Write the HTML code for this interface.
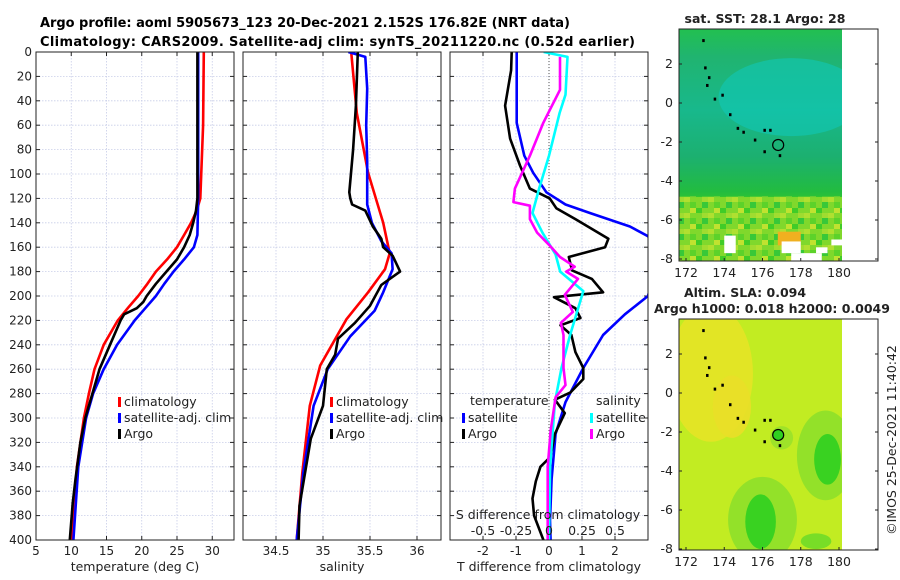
<!DOCTYPE html>
<html><head><meta charset="utf-8">
<style>
html,body{margin:0;padding:0;background:#fff;}
svg{display:block;font-family:"DejaVu Sans","Liberation Sans",sans-serif;}
</style></head>
<body>
<svg id="fig" width="900" height="580" viewBox="0 0 900 580" xmlns="http://www.w3.org/2000/svg">
<defs>
<linearGradient id="sstg" x1="0" y1="0" x2="0" y2="1">
<stop offset="0" stop-color="#22c050"/><stop offset="0.12" stop-color="#20b470"/><stop offset="0.35" stop-color="#18b88c"/><stop offset="0.55" stop-color="#1cb070"/><stop offset="0.7" stop-color="#22bc40"/><stop offset="0.78" stop-color="#40cc20"/><stop offset="0.85" stop-color="#8edc30"/><stop offset="1" stop-color="#7cd430"/>
</linearGradient>
<linearGradient id="speckfade" x1="0" y1="0" x2="0" y2="1">
<stop offset="0" stop-color="#fff" stop-opacity="0"/><stop offset="0.35" stop-color="#fff" stop-opacity="1"/>
</linearGradient>
<mask id="speckmask"><rect x="679" y="160" width="163" height="110" fill="url(#speckfade)"/></mask>
<pattern id="speck" width="24" height="16" patternUnits="userSpaceOnUse">
<rect width="24" height="16" fill="#80d82c"/>
<rect x="0" y="0" width="6" height="5" fill="#40cc28"/><rect x="12" y="5" width="6" height="5" fill="#b0e030"/>
<rect x="6" y="10" width="6" height="6" fill="#38c838"/><rect x="18" y="0" width="6" height="5" fill="#c0e230"/>
<rect x="18" y="10" width="6" height="6" fill="#5cd22a"/><rect x="6" y="5" width="6" height="5" fill="#a0dc30"/>
</pattern>
<clipPath id="cm1"><rect x="679" y="29" width="163" height="232"/></clipPath>
<clipPath id="cm2"><rect x="679" y="319" width="163" height="231"/></clipPath>
</defs>
<text x="40" y="27" font-size="13" font-weight="bold" textLength="530">Argo profile: aoml 5905673_123 20-Dec-2021 2.152S 176.82E (NRT data)</text>
<text x="40" y="46" font-size="13" font-weight="bold" textLength="595">Climatology: CARS2009. Satellite-adj clim: synTS_20211220.nc (0.52d earlier)</text>
<g id="p1"></g>
<g id="p2"></g>
<g id="p3"></g>
<g id="maps"></g>
<text transform="translate(896,440) rotate(-90)" font-size="12.5" text-anchor="middle" fill="#222">©IMOS 25-Dec-2021 11:40:42</text>
</svg>
<script>
// ---- data ----
const depthTicks=[0,20,40,60,80,100,120,140,160,180,200,220,240,260,280,300,320,340,360,380,400];
const tTicks=[5,10,15,20,25,30];
const sTicks=[34.5,35,35.5,36];
const dTicksT=[-2,-1,0,1,2];
const dTicksS=[-0.5,-0.25,0,0.25,0.5];
const dTickSLabels=["-0.5","-0.25","0","0.25","0.5"];
const tClimD=[0,60,120,130,140,150,160,170,180,190,200,210,220,240,260,280,300,340,400];
const tClimV=[28.8,28.7,28.3,27.8,27.0,26.0,25.0,23.6,22.0,20.8,19.5,18.0,16.6,14.6,13.3,12.5,11.8,10.8,10.1];
const tSatD=[0,60,120,150,160,170,180,190,200,210,220,240,260,280,300,340,400];
const tSatV=[28.0,28.0,28.0,27.9,27.4,26.0,24.5,23.2,22.0,20.5,19.0,16.5,14.6,13.1,12.1,11.0,10.3];
const tArgD=[0,60,120,130,140,150,160,170,180,190,200,205,210,215,220,240,260,280,300,320,350,370,400];
const tArgV=[27.9,27.9,27.9,27.7,27.3,26.8,26.0,25.0,23.5,22.0,20.7,20.2,19.3,17.5,17.0,15.5,14.0,13.0,12.0,11.3,10.6,10.2,9.8];
const sClimD=[0,50,99,140,165,178,197,219,257,290,345,400];
const sClimV=[35.30,35.36,35.48,35.64,35.71,35.66,35.48,35.25,34.97,34.86,34.78,34.72];
const sSatD=[0,4,30,60,90,125,140,155,165,178,197,212,233,260,290,345,400];
const sSatV=[35.27,35.45,35.47,35.46,35.47,35.47,35.52,35.62,35.73,35.74,35.64,35.55,35.29,35.05,34.90,34.79,34.72];
const sArgD=[0,44,80,115,120,125,130,143,153,160,167,180,186,191,208,222,235,248,260,290,317,372,400];
const sArgV=[35.37,35.35,35.32,35.28,35.29,35.31,35.45,35.53,35.62,35.64,35.74,35.82,35.71,35.62,35.50,35.34,35.16,35.13,35.04,35.00,34.87,34.75,34.74];
const dTSatD=[0,58,85,99,115,125,132,143,151,160,170,180,190,200,215,232,259,287,313,350,384,400];
const dTSatV=[-0.98,-0.98,-0.75,-0.48,-0.08,0.5,1.24,2.45,3.0,3.2,3.4,3.3,3.1,3.0,2.3,1.64,1.04,0.5,0.2,0.08,0.03,0.05];
const dTArgD=[0,15,44,71,93,112,120,128,137,153,160,168,179,186,197,201,210,218,224,232,246,259,268,279,285,296,313,332,340,352,366,380,400];
const dTArgV=[-1.13,-1.15,-1.33,-1.18,-0.88,-0.58,0.02,0.22,0.8,1.8,1.7,0.6,0.7,1.3,1.64,0.15,0.8,0.95,0.35,0.68,0.8,1.04,1.04,0.65,0.18,0.48,0.18,0.04,-0.26,-0.4,-0.5,-0.45,-0.17];
const dSSatD=[0,4,35,50,85,112,132,148,166,180,196,232,259,287,340,400];
const dSSatV=[-0.04,0.14,0.125,0.08,0.0,-0.075,-0.125,-0.05,0.05,0.085,0.26,0.16,0.095,0.045,0.008,-0.001];
const dSArgD=[4,31,58,85,112,123,126,137,148,158,168,176,180,186,199,213,222,232,259,273,283,310,340,400];
const dSArgV=[0.083,0.083,-0.043,-0.145,-0.258,-0.27,-0.145,-0.145,-0.09,0.0,0.083,0.195,0.13,0.22,0.12,0.18,0.09,0.11,0.11,0.125,0.05,0.013,-0.01,-0.01];
const mapLonTicks=[172,174,176,178,180];
const mapLatTicks=[2,0,-2,-4,-6,-8];
const argoLon=[176.82];
const argoLat=[-2.152];

const NS="http://www.w3.org/2000/svg";
function el(tag,attrs,parent){const e=document.createElementNS(NS,tag);for(const k in attrs)e.setAttribute(k,attrs[k]);parent.appendChild(e);return e;}
const Y0=52,Y1=540;
function yD(d){return Y0+(d/400)*(Y1-Y0);}

function panel(g,x0,x1,xmin,xmax,ticks,labels,showDepth){
  const xs=v=>x0+(v-xmin)/(xmax-xmin)*(x1-x0);
  depthTicks.forEach(d=>{
    const l=el('line',{x1:x0,x2:x1,y1:yD(d),y2:yD(d),stroke:'#c8cde8','stroke-width':0.8,'stroke-dasharray':'1.5,1.5'},g);
    
    
    const t1=el('line',{x1:x0,x2:x0+4,y1:yD(d),y2:yD(d),stroke:'#222'},g);
    
    
    const t2=el('line',{x1:x1-4,x2:x1,y1:yD(d),y2:yD(d),stroke:'#222'},g);
    
    
    if(showDepth){const tx=el('text',{x:x0-4,y:yD(d)+4,'font-size':12,'text-anchor':'end',fill:'#222'},g);tx.textContent=d;
      
      }
  });
  ticks.forEach((v,i)=>{
    const x=xs(v);
    const l=el('line',{x1:x,x2:x,y1:Y0,y2:Y1,stroke:'#c8cde8','stroke-width':0.8,'stroke-dasharray':'1.5,1.5'},g);
    
    
    const t1=el('line',{x1:x,x2:x,y1:Y1-4,y2:Y1,stroke:'#222'},g);
    
    
    const t2=el('line',{x1:x,x2:x,y1:Y0,y2:Y0+4,stroke:'#222'},g);
    
    
    if(labels){const tx=el('text',{x:x,y:Y1+15,'font-size':12,'text-anchor':'middle',fill:'#222'},g);tx.textContent=labels[i];
      
      }
  });
  return xs;
}
function frame(g,x0,x1){const r=el('rect',{x:x0,y:Y0,width:x1-x0,height:Y1-Y0,fill:'none',stroke:'#222','stroke-width':1},g);
  
  }
function line(g,xs,D,V,color,name,w){
  const pts=D.map((d,i)=>xs(V[i]).toFixed(1)+','+yD(d).toFixed(1)).join(' ');
  const p=el('polyline',{points:pts,fill:'none',stroke:color,'stroke-width':w||2.6,'stroke-linejoin':'round'},g);
  
  
}
function txt(g,x,y,s,attrs,name){const t=el('text',Object.assign({x:x,y:y,'font-size':12.5,fill:'#222'},attrs||{}),g);t.textContent=s;
  
  return t;}
function legItem(g,x,y,color,label,name){
  const m=el('rect',{x:x,y:y-9,width:3,height:10,fill:color},g);
  
  
  txt(g,x+6,y,label,{'font-size':12.5},name+'-label');
}

// Panel 1
const g1=document.getElementById('p1');
const cp1=el('clipPath',{id:'c1'},g1);el('rect',{x:36,y:Y0,width:198,height:Y1-Y0},cp1);
const xs1=panel(g1,36,234,5,5+198/7.05,tTicks,tTicks.map(String),true);
const l1=el('g',{'clip-path':'url(#c1)'},g1);
line(l1,xs1,tClimD,tClimV,'#f00','temp-climatology-line');
line(l1,xs1,tSatD,tSatV,'#00f','temp-satellite-line');
line(l1,xs1,tArgD,tArgV,'#000','temp-argo-line');
frame(g1,36,234);
legItem(g1,118,406,'#f00','climatology','legend-climatology');
legItem(g1,118,422,'#00f','satellite-adj. clim','legend-satellite');
legItem(g1,118,438,'#000','Argo','legend-argo');
txt(g1,135,571,'temperature (deg C)',{'font-size':12.5,'text-anchor':'middle'},'x-axis-title-temperature');

// Panel 2
const g2=document.getElementById('p2');
const cp2=el('clipPath',{id:'c2'},g2);el('rect',{x:243,y:Y0,width:198,height:Y1-Y0},cp2);
const xs2=panel(g2,243,441,34.5-33/94,34.5+165/94,sTicks,sTicks.map(String),false);
const l2=el('g',{'clip-path':'url(#c2)'},g2);
line(l2,xs2,sClimD,sClimV,'#f00','sal-climatology-line');
line(l2,xs2,sSatD,sSatV,'#00f','sal-satellite-line');
line(l2,xs2,sArgD,sArgV,'#000','sal-argo-line');
frame(g2,243,441);
legItem(g2,330,406,'#f00','climatology','legend-climatology');
legItem(g2,330,422,'#00f','satellite-adj. clim','legend-satellite');
legItem(g2,330,438,'#000','Argo','legend-argo');
txt(g2,342,571,'salinity',{'font-size':12.5,'text-anchor':'middle'},'x-axis-title-salinity');

// Panel 3
const g3=document.getElementById('p3');
const cp3=el('clipPath',{id:'c3'},g3);el('rect',{x:450,y:Y0,width:198,height:Y1-Y0},cp3);
const xs3=panel(g3,450,648,-3,3,dTicksT,dTicksT.map(String),false);
const xs3s=v=>xs3(v*4);
const zl=el('line',{x1:xs3(0),x2:xs3(0),y1:Y0,y2:Y1,stroke:'#555','stroke-width':1,'stroke-dasharray':'1,2'},g3);


const l3=el('g',{'clip-path':'url(#c3)'},g3);
line(l3,xs3,dTSatD,dTSatV,'#00f','tdiff-satellite-line');
line(l3,xs3,dTArgD,dTArgV,'#000','tdiff-argo-line');
line(l3,xs3s,dSSatD,dSSatV,'#0ff','sdiff-satellite-line');
line(l3,xs3s,dSArgD,dSArgV,'#f0f','sdiff-argo-line');
frame(g3,450,648);
txt(g3,470,405,'temperature',{'font-size':12.5},'legend-temperature-title');
legItem(g3,462,422,'#00f','satellite','legend-t-satellite');
legItem(g3,462,438,'#000','Argo','legend-t-argo');
txt(g3,596,405,'salinity',{'font-size':12.5},'legend-salinity-title');
legItem(g3,590,422,'#0ff','satellite','legend-s-satellite');
legItem(g3,590,438,'#f0f','Argo','legend-s-argo');
txt(g3,548,519,'S difference from climatology',{'font-size':12.5,'text-anchor':'middle'},'s-axis-title');
dTicksS.forEach((v,i)=>{txt(g3,xs3s(v),535,dTickSLabels[i],{'font-size':12.5,'text-anchor':'middle'},'s-tick-label');});
txt(g3,549,571,'T difference from climatology',{'font-size':12.5,'text-anchor':'middle'},'x-axis-title-tdiff');

// Maps
const gm=document.getElementById('maps');
function map(top,bottom,lat2y,latm8y,isSLA){
  const x0=679,x1=878;
  const lx=v=>686+(v-172)/8*(839-686);
  const ly=v=>lat2y+(2-v)/10*(latm8y-lat2y);
  const pxd=(839-686)/8, pyd=(latm8y-lat2y)/10;
  const cg=el('g',{'clip-path':isSLA?'url(#cm2)':'url(#cm1)'},gm);
  if(!isSLA){
    const r=el('rect',{x:x0,y:top,width:163,height:bottom-top,fill:'url(#sstg)'},cg);
    
    
    const e=el('ellipse',{cx:lx(177.5),cy:ly(0.3),rx:3.8*pxd,ry:2.0*pyd,fill:'#10c8b8',opacity:0.6},cg);
    
    
    const sp=el('rect',{x:x0,y:ly(-4.8),width:163,height:bottom-ly(-4.8),fill:'url(#speck)',mask:'url(#speckmask)'},cg);
    
    
    const o=el('rect',{x:lx(176.8),y:ly(-6.6),width:1.2*pxd,height:0.7*pyd,fill:'#f0b020'},cg);
    
    
    [[174.0,-6.8,0.6,0.9],[177.0,-7.1,1.0,0.6],[177.5,-7.7,1.6,0.4],[178.8,-7.4,0.6,0.3],[179.6,-7.0,0.6,0.3]].forEach(a=>{
      const w=el('rect',{x:lx(a[0]),y:ly(a[1]),width:a[2]*pxd,height:a[3]*pyd,fill:'#fff'},cg);
      
      });
  } else {
    const r=el('rect',{x:x0,y:top,width:163,height:bottom-top,fill:'#c2ec22'},cg);
    
    
    [[173.3,1.0,2.2,3.5,'#e6e426'],[174.4,-0.7,1.0,1.6,'#eadf28'],[176.0,-6.5,1.8,2.2,'#8ee02a'],[179.3,-3.2,1.5,2.3,'#8ee02a'],[175.9,-6.6,0.8,1.4,'#30d020'],[179.4,-3.4,0.7,1.3,'#30d020'],[177.0,-2.3,0.6,0.6,'#9ae22a'],[178.8,-7.6,0.8,0.4,'#70dc28']].forEach(a=>{
      const e=el('ellipse',{cx:lx(a[0]),cy:ly(a[1]),rx:a[2]*pxd,ry:a[3]*pyd,fill:a[4],opacity:0.9},cg);
      
      });
  }
  const isl=[[172.9,3.2],[173,1.8],[173.2,1.3],[173.1,0.9],[173.5,0.2],[173.9,0.4],[174.3,-0.6],[174.7,-1.3],[175,-1.5],[175.6,-1.9],[176.1,-1.4],[176.4,-1.4],[176.1,-2.5],[176.9,-2.7]];
  isl.forEach(p=>{const c=el('rect',{x:lx(p[0])-1,y:ly(p[1])-1.5,width:2.5,height:3,fill:'#000'},gm);
    
    });
  argoLon.forEach((v,i)=>{const c=el('circle',{cx:lx(v),cy:ly(argoLat[i]),r:5.5,fill:isSLA?'#30d020':'none',stroke:'#000','stroke-width':1.2},gm);
    
    });
  const f=el('rect',{x:x0,y:top,width:x1-x0,height:bottom-top,fill:'none',stroke:'#222'},gm);
  
  
  mapLonTicks.forEach(v=>{
    const t=el('line',{x1:lx(v),x2:lx(v),y1:bottom-3,y2:bottom,stroke:'#222'},gm);
    
    
    txt(gm,lx(v),bottom+16,String(v),{'font-size':12.5,'text-anchor':'middle'},'lon-tick-label');});
  mapLatTicks.forEach(v=>{
    const t=el('line',{x1:x0,x2:x0+3,y1:ly(v),y2:ly(v),stroke:'#222'},gm);
    
    
    const t2=el('line',{x1:x1-3,x2:x1,y1:ly(v),y2:ly(v),stroke:'#222'},gm);
    
    
    txt(gm,x0-6,ly(v)+4,String(v),{'font-size':12.5,'text-anchor':'end'},'lat-tick-label');});
}
map(29,261,64,259,false);
map(319,550,354,549,true);
txt(gm,765,23,'sat. SST: 28.1 Argo: 28',{'font-size':12.5,'font-weight':'bold','text-anchor':'middle'},'sst-map-title');
txt(gm,745,297,'Altim. SLA: 0.094',{'font-size':12.5,'font-weight':'bold','text-anchor':'middle'},'sla-map-title');
txt(gm,654,313,'Argo h1000: 0.018 h2000: 0.0049',{'font-size':12.5,'font-weight':'bold'},'sla-map-subtitle');
</script>
</body></html>
